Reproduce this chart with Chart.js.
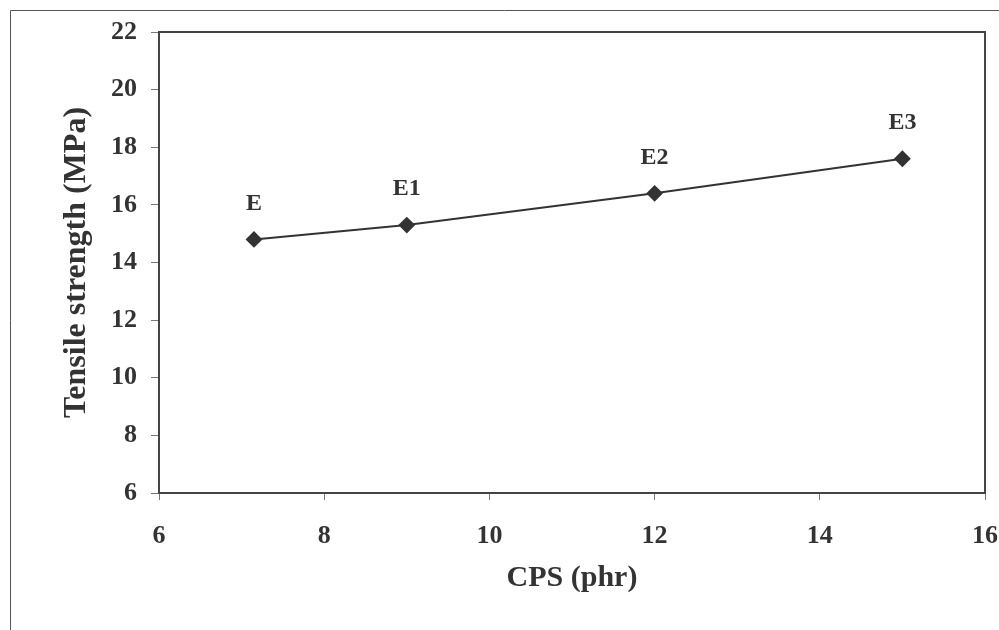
<!DOCTYPE html>
<html>
<head>
<meta charset="utf-8">
<script src="https://cdn.jsdelivr.net/npm/chart.js@4"></script>
<style>
  html, body { margin: 0; padding: 0; background: #fff; }
  #wrap { width: 999px; height: 630px; position: relative; }
</style>
</head>
<body>
<div id="wrap"><canvas id="grafico" width="999" height="630"></canvas></div>
<script>
// valores: CPS (phr) x resistência à tração (MPa)
const cpsPhr = [7.15, 9, 12, 15];
const tensileMPa = [14.8, 15.3, 16.4, 17.6];
const amostras = ["E", "E1", "E2", "E3"];
const xMin = 6, xMax = 16, xPasso = 2;
const yMin = 6, yMax = 22, yPasso = 2;

const COR = "#333333";
const FONTE = "'Liberation Serif', 'Times New Roman', serif";

// moldura externa (só bordas de cima e da esquerda aparecem na imagem)
// + caixa fechada da área de plotagem
const moldura = {
  id: "moldura",
  afterDraw(chart) {
    const { ctx, chartArea: a } = chart;
    ctx.save();
    ctx.strokeStyle = "#555";
    ctx.lineWidth = 1;
    ctx.beginPath();
    ctx.moveTo(10.5, 630);
    ctx.lineTo(10.5, 10.5);
    ctx.lineTo(999, 10.5);
    ctx.stroke();
    ctx.strokeStyle = "#444";
    ctx.lineWidth = 2;
    ctx.strokeRect(a.left, a.top, a.right - a.left, a.bottom - a.top);
    ctx.restore();
  },
};

// rótulo de cada amostra acima do seu ponto
const rotulos = {
  id: "rotulos",
  afterDatasetsDraw(chart) {
    const { ctx } = chart;
    const pts = chart.getDatasetMeta(0).data;
    ctx.save();
    ctx.fillStyle = COR;
    ctx.font = "bold 24px " + FONTE;
    ctx.textAlign = "center";
    ctx.textBaseline = "middle";
    pts.forEach((p, i) => ctx.fillText(amostras[i], p.x, p.y - 36));
    ctx.restore();
  },
};

new Chart(document.getElementById("grafico").getContext("2d"), {
  type: "scatter",
  data: {
    datasets: [{
      data: cpsPhr.map((x, i) => ({ x, y: tensileMPa[i] })),
      showLine: true,
      borderColor: COR,
      backgroundColor: COR,
      borderWidth: 2,
      pointStyle: "rectRot",
      pointRadius: 7,
      pointHoverRadius: 7,
      tension: 0,
    }],
  },
  options: {
    responsive: false,
    animation: false,
    events: [],
    layout: { padding: { left: 0, right: 14, top: 32, bottom: 0 } },
    plugins: { legend: { display: false }, tooltip: { enabled: false } },
    scales: {
      x: {
        type: "linear",
        min: xMin, max: xMax,
        afterFit(s) { s.height = 137; s.paddingLeft = 0; s.paddingRight = 0; },
        ticks: { stepSize: xPasso, color: COR, padding: 21, font: { family: FONTE, size: 26, weight: "bold" } },
        grid: { drawOnChartArea: false, drawTicks: true, tickLength: 7, color: "#777" },
        border: { color: "#444", width: 2 },
        title: { display: true, text: "CPS (phr)", color: COR, padding: { top: 4, bottom: 34 }, font: { family: FONTE, size: 30, weight: "bold" } },
      },
      y: {
        type: "linear",
        min: yMin, max: yMax,
        afterFit(s) { s.width = 159; s.paddingTop = 0; s.paddingBottom = 0; },
        ticks: { stepSize: yPasso, color: COR, padding: 14, font: { family: FONTE, size: 26, weight: "bold" } },
        grid: { drawOnChartArea: false, drawTicks: true, tickLength: 8, color: "#777" },
        border: { color: "#444", width: 2 },
        title: { display: true, text: "Tensile strength (MPa)", color: COR, padding: { top: 58, bottom: 0 }, font: { family: FONTE, size: 32, weight: "bold" } },
      },
    },
  },
  plugins: [moldura, rotulos],
});
</script>
</body>
</html>
